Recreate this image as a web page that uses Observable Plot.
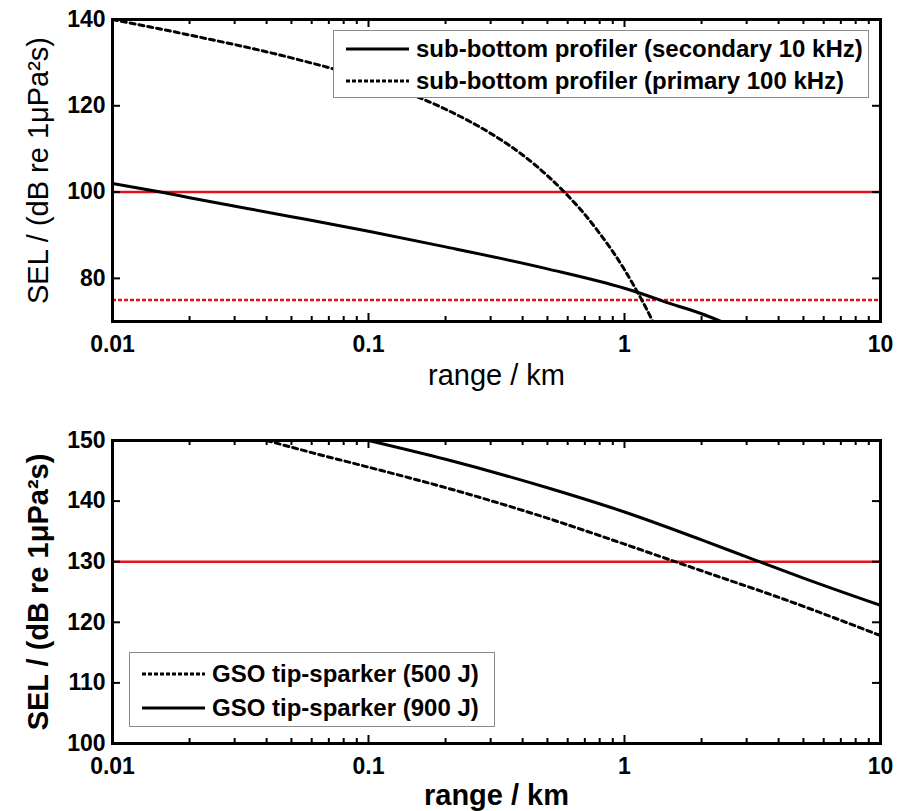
<!DOCTYPE html>
<html>
<head>
<meta charset="utf-8">
<script src="https://cdn.jsdelivr.net/npm/d3@7"></script>
<script src="https://cdn.jsdelivr.net/npm/@observablehq/plot@0.6"></script>
<style>
  body { margin: 0; background: #fff; }
  #wrap { position: relative; width: 908px; height: 811px; font-family: "Liberation Sans", Arial, sans-serif; }
  .legend { position: absolute; background: #fff; border: 1px solid #8a8a8a; box-sizing: border-box; font-weight: bold; font-size: 24px; color: #000; }
  .legend .row { position: absolute; left: 0; display: flex; align-items: center; height: 30px; }
  .legend svg { display: block; }
</style>
</head>
<body>
<div id="wrap"></div>
<script>
// ---- data ----
const xMajorTicks = [0.01, 0.1, 1, 10];
const xTickLabels = ["0.01", "0.1", "1", "10"];
const xMinorTicks = [0.02,0.03,0.04,0.05,0.06,0.07,0.08,0.09,0.2,0.3,0.4,0.5,0.6,0.7,0.8,0.9,2,3,4,5,6,7,8,9];
const topYTicks = [80, 100, 120, 140];
const bottomYTicks = [100, 110, 120, 130, 140, 150];

const topSeriesNames = ["sub-bottom profiler (secondary 10 kHz)", "sub-bottom profiler (primary 100 kHz)"];
const secondaryRange = [0.01, 0.0154, 0.02, 0.05, 0.1, 0.2, 0.5, 1, 1.16, 1.5, 2, 2.5];
const secondarySEL   = [102, 100, 98.7, 94.3, 90.9, 87.3, 82.2, 77.7, 76.5, 74.2, 71.8, 69.5];
const primaryRange = [0.01, 0.02, 0.05, 0.1, 0.2, 0.3, 0.4, 0.5, 0.6, 0.7, 0.8, 0.9, 1, 1.1, 1.2, 1.3];
const primarySEL   = [140, 136.4, 131.1, 126.1, 119.2, 113.6, 108.6, 103.8, 99.2, 94.8, 90.4, 86.2, 82, 77.8, 73.7, 69.6];
const topThresholdSolid = 100;
const topThresholdDotted = 75;

const bottomSeriesNames = ["GSO tip-sparker (500 J)", "GSO tip-sparker (900 J)"];
const spark500Range = [0.04, 0.06, 0.1, 0.217, 0.533, 1, 1.53, 2, 4.33, 10];
const spark500SEL   = [150, 148, 145.6, 141.8, 136.8, 132.9, 130.2, 128.5, 123.6, 117.8];
const spark900Range = [0.1, 0.2, 0.5, 1, 2, 3.22, 5, 10];
const spark900SEL   = [150, 146.9, 142.2, 138.2, 133.6, 130.3, 127.3, 122.8];
const bottomThreshold = 130;

const yTitle = "SEL / (dB re 1\u03bcPa\u00b2s)";
const xTitle = "range / km";

const RED = "#e3121c";
const DASH = "5,4";
const zip = (xs, ys) => xs.map((x, i) => ({x, y: ys[i]}));

function panel({height, mt, mb, yDomain, yTicks, lines, reds, bold}) {
  const ml = 112, mr = 28, W = 908;
  const fw = W - ml - mr, fh = height - mt - mb;
  const titleWeight = bold ? "bold" : "normal";
  return Plot.plot({
    width: W, height,
    marginTop: mt, marginBottom: mb, marginLeft: ml, marginRight: mr,
    x: {type: "log", domain: [0.01, 10]},
    y: {domain: yDomain},
    style: {fontFamily: "'Liberation Sans', Arial, sans-serif", color: "#000", background: "#fff", overflow: "visible"},
    marks: [
      Plot.axisX(xMajorTicks, {tickSize: 0, tickPadding: 14, fontSize: 23, fontWeight: "bold",
        tickFormat: d => xTickLabels[xMajorTicks.indexOf(d)], label: null}),
      Plot.axisY(yTicks, {tickSize: 0, tickPadding: 7, fontSize: 23, fontWeight: "bold", label: null}),
      ...reds.map(r => Plot.ruleY([r.value], {stroke: RED, strokeWidth: 2.6, strokeDasharray: r.dash})),
      ...lines.map(l => Plot.line(zip(l.xs, l.ys), {x: "x", y: "y", stroke: "#000", strokeWidth: 3,
        strokeDasharray: l.dash, curve: "monotone-x", clip: true})),
      // inward ticks
      Plot.tickX(xMajorTicks, {x: d => d, insetTop: fh - 8, strokeWidth: 2}),
      Plot.tickX(xMajorTicks, {x: d => d, insetBottom: fh - 8, strokeWidth: 2}),
      Plot.tickX(xMinorTicks, {x: d => d, insetTop: fh - 5, strokeWidth: 2}),
      Plot.tickX(xMinorTicks, {x: d => d, insetBottom: fh - 5, strokeWidth: 2}),
      Plot.tickY(yTicks, {y: d => d, insetRight: fw - 8, strokeWidth: 2}),
      Plot.tickY(yTicks, {y: d => d, insetLeft: fw - 8, strokeWidth: 2}),
      Plot.frame({stroke: "#000", strokeWidth: 3}),
      Plot.text([yTitle], {frameAnchor: "left", dx: -74, rotate: -90, textAnchor: "middle", lineAnchor: "middle",
        fontSize: 29, fontWeight: titleWeight, text: d => d}),
      Plot.text([xTitle], {frameAnchor: "bottom", dy: bold ? 52 : 54, textAnchor: "middle", lineAnchor: "middle",
        fontSize: 29, fontWeight: titleWeight, text: d => d})
    ]
  });
}

const wrap = document.getElementById("wrap");

const topPanel = panel({
  height: 400, mt: 19, mb: 79, yDomain: [70, 140], yTicks: topYTicks, bold: false,
  lines: [
    {xs: secondaryRange, ys: secondarySEL, dash: null},
    {xs: primaryRange, ys: primarySEL, dash: DASH}
  ],
  reds: [{value: topThresholdSolid, dash: null}, {value: topThresholdDotted, dash: "4,2"}]
});
topPanel.style.display = "block";
wrap.appendChild(topPanel);

const bottomPanel = panel({
  height: 411, mt: 40, mb: 68, yDomain: [100, 150], yTicks: bottomYTicks, bold: true,
  lines: [
    {xs: spark500Range, ys: spark500SEL, dash: DASH},
    {xs: spark900Range, ys: spark900SEL, dash: null}
  ],
  reds: [{value: bottomThreshold, dash: null}]
});
bottomPanel.style.display = "block";
wrap.appendChild(bottomPanel);

function legend({left, topPx, width, height, rows, dashes, rowYs}) {
  const box = document.createElement("div");
  box.className = "legend";
  Object.assign(box.style, {left: left + "px", top: topPx + "px", width: width + "px", height: height + "px"});
  rows.forEach((name, i) => {
    const row = document.createElement("div");
    row.className = "row";
    row.style.top = (rowYs[i] - 15) + "px";
    const svg = d3.create("svg").attr("width", 82).attr("height", 30);
    svg.append("line").attr("x1", 12).attr("x2", 75).attr("y1", 15).attr("y2", 15)
      .attr("stroke", "#000").attr("stroke-width", 3).attr("stroke-dasharray", dashes[i]);
    row.appendChild(svg.node());
    const span = document.createElement("span");
    span.textContent = name;
    row.appendChild(span);
    box.appendChild(row);
  });
  wrap.appendChild(box);
}

legend({left: 333, topPx: 30, width: 536, height: 68, rows: topSeriesNames, dashes: [null, "4,2"], rowYs: [18, 50]});
legend({left: 129, topPx: 652, width: 366, height: 75, rows: bottomSeriesNames, dashes: ["4,2", null], rowYs: [21, 55]});
</script>
</body>
</html>
